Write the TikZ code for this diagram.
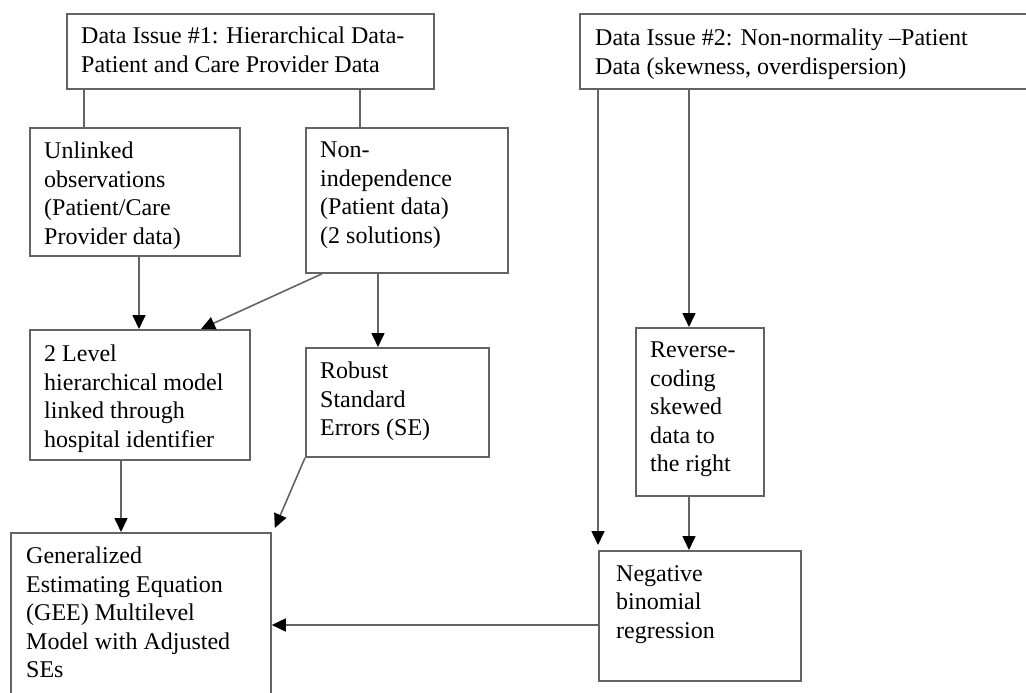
\documentclass[tikz,border=0pt]{standalone}
\usepackage{fontspec}
\setmainfont{Liberation Serif}
\usetikzlibrary{arrows.meta,calc}
\definecolor{linegray}{RGB}{100,100,100}
\tikzset{
  box/.style={draw=linegray, line width=1.8pt, rectangle, inner sep=0pt, anchor=north west},
  lbl/.style={anchor=north west, inner sep=0pt, align=left, font=\fontsize{24}{28.5}\selectfont, text=black},
  conn/.style={draw=linegray, line width=1.6pt},
  arr/.style={conn, -{Triangle[length=14pt,width=13pt,fill=black,color=black]}}
}
\begin{document}
\begin{tikzpicture}[x=1pt,y=-1pt]
\useasboundingbox (0,0) rectangle (1026,693);
\clip (0,0) rectangle (1026,693);
\fill[white] (0,0) rectangle (1026,693);
% boxes
\node[box, minimum width=367pt, minimum height=75pt] (b1) at (66,13) {};
\node[box, minimum width=460pt, minimum height=75pt] (b2) at (579,13) {};
\node[box, minimum width=210pt, minimum height=128pt] (unl) at (29,127) {};
\node[box, minimum width=202pt, minimum height=145pt] (ind) at (305,127) {};
\node[box, minimum width=220pt, minimum height=130pt] (lvl) at (29,329) {};
\node[box, minimum width=183pt, minimum height=109pt] (rob) at (305,347) {};
\node[box, minimum width=260pt, minimum height=175pt] (gee) at (10,532) {};
\node[box, minimum width=128pt, minimum height=168pt] (rev) at (635,327) {};
\node[box, minimum width=202pt, minimum height=130pt] (nb) at (598,550) {};
% texts
\node[lbl] (t1) at (81,27) {Data Issue \#1: Hierarchical Data-\\Patient and Care Provider Data};
\node[lbl] (t2) at (595,29) {Data Issue \#2: Non-normality --Patient\\Data (skewness, overdispersion)};
\node[lbl] (tunl) at (44,142) {Unlinked\\observations\\(Patient/Care\\Provider data)};
\node[lbl] (tind) at (320,142) {Non-\\independence\\(Patient data)\\(2 solutions)};
\node[lbl] (tlvl) at (44,345) {2 Level\\hierarchical model\\linked through\\hospital identifier};
\node[lbl] (trob) at (320,362) {Robust\\Standard\\Errors (SE)};
\node[lbl] (tgee) at (26,547) {Generalized\\Estimating Equation\\(GEE) Multilevel\\Model with Adjusted\\SEs};
\node[lbl] (tnb) at (616,565) {Negative\\binomial\\regression};
\node[lbl] (trev) at (650,342) {Reverse-\\coding\\skewed\\data to\\the right};
% connectors
\draw[conn] (b1.south -| 84,0) -- (unl.north -| 84,0);
\draw[conn] (b1.south -| 360,0) -- (ind.north -| 360,0);
\draw[arr] (unl.south -| 139,0) -- (lvl.north -| 139,0);
\draw[arr] (ind.south -| 322,0) -- (lvl.north -| 201,0);
\draw[arr] (ind.south -| 378,0) -- (rob.north -| 378,0);
\draw[arr] (lvl.south -| 121,0) -- (gee.north -| 121,0);
\draw[arr] (rob.south west) -- ($(gee.north east)+(3,-4)$);
\draw[arr] (b2.south -| nb.west) -- ($(nb.north west)+(0,-5)$);
\draw[arr] (b2.south -| 689,0) -- (rev.north -| 689,0);
\draw[arr] (rev.south -| 689,0) -- (nb.north -| 689,0);
\draw[arr] (nb.west |- 0,625) -- (gee.east |- 0,625);
\end{tikzpicture}
\end{document}
